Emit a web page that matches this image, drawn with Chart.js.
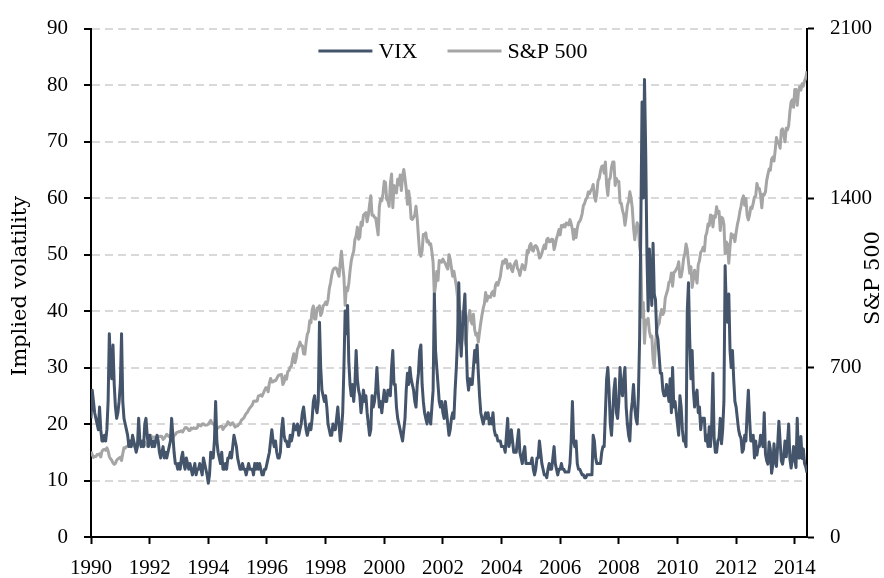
<!DOCTYPE html>
<html>
<head>
<meta charset="utf-8">
<script src="https://cdn.jsdelivr.net/npm/chart.js@4.4.1/dist/chart.umd.min.js"></script>
<style>
html,body{margin:0;padding:0;background:#ffffff;}
#wrap{width:884px;height:578px;position:relative;}
</style>
</head>
<body>
<div id="wrap"><canvas id="c" width="884" height="578"></canvas></div>
<script>
// ---------- data (semi-monthly readings, 1st and mid of each month) ----------
const startYear = 1990;
const pointsPerYear = 24;
const xTickYears = [1990,1992,1994,1996,1998,2000,2002,2004,2006,2008,2010,2012,2014];
const vixTicks = [0,10,20,30,40,50,60,70,80,90];
const spxTicks = [0,700,1400,2100];
const seriesLabels = ['VIX','S&P 500'];
const axisTitles = ['Implied volatility','S&P 500'];

const vix = [
21,26,24,22,21,20,19,23,19,17,17,18,17,19,24,36,30,28,34,27,23,21,22,24,
27,36,24,21,20,19,18,16,17,16,18,17,16,15,16,21,17,16,17,16,20,21,18,16,
18,17,16,17,16,17,18,17,15,14,15,16,14,15,14,15,16,17,21,18,15,13,13,12,
13,12,14,15,13,12,14,13,12,13,12,11,12,13,11,12,12,13,12,11,14,13,12,11,
9.5,11,15,14,14,17,24,17,15,14,13,15,12,12,13,12,14,14,15,14,16,18,17,16,
14,13,12,12,13,12,12,11,12,13,12,12,12,11,13,12,13,12,13,12,11,11,12,12,
13,14,15,17,19,17,16,17,15,14,14,15,19,21,18,17,17,16,16,18,17,18,20,19,
19,20,18,19,20,22,23,21,19,18,19,20,19,21,24,25,23,22,24,38,30,26,25,24,
25,23,20,19,18,18,20,19,19,21,23,20,17,19,22,30,40,36,41,31,27,25,27,24,
27,33,28,26,25,22,24,26,24,25,22,20,18,19,25,23,24,26,30,26,23,24,22,24,
26,24,24,26,26,25,30,33,27,27,23,21,20,19,18,17,19,21,26,29,27,30,28,27,
26,24,23,27,29,33,34,27,24,22,21,20,22,21,20,23,26,43,33,30,27,24,23,24,
22,21,24,22,20,18,19,21,22,21,26,30,35,45,36,32,37,40,43,35,28,26,28,27,
27,30,33,31,34,29,25,22,21,20,21,22,21,22,20,21,20,22,19,18,18,17,17,17,
16,16,16,15,18,21,16,17,19,17,15,15,15,17,19,15,14,13,15,16,13,13,13,13,
13,14,12,11,12,14,14,17,15,13,12,11,11,10.5,12,13,12,12,14,16,13,12,11,12,
12,13,12,12,11.5,11.5,11.5,11.5,13,17,24,17,16,17,13,12,12,11.5,11,11,10.5,10.5,11,11,
11,11,11,18,17,14,13,13,13,13,15,16,16,22,28,30,26,20,18,22,26,28,22,21,
24,30,26,25,28,30,23,20,18,17,22,24,27,23,21,20,25,35,55,77,60,81,68,50,
40,51,45,41,52,43,42,36,35,32,29,29,26,25,25,27,26,24,28,22,30,23,24,22,
20,18,25,23,19,17,17,16,40,45,35,28,33,26,23,25,26,22,23,19,21,21,21,17,
18,16,19.5,16,20,29,17.4,15,15,17,17.5,21,16.5,19,24,48,40,38,43,33,30,33,28,24,
23,21,19,18,17.5,15,15.5,18,17,22,26,21,17,17,18,14,17,14.5,16,16,18,17,16,22,
14.7,13.5,12.9,16.8,15.5,11.3,12.7,16.5,13.5,12.5,16.3,20.5,16.9,13.5,12.9,14.4,17,14.2,16.6,20,13.8,12.2,13.7,16,
13.8,12.3,21,14,14,17.8,13.9,15.6,13,12.4,11.4
];

const spx = [
353,340,329,333,332,341,340,344,331,354,361,362,358,368,356,332,323,317,306,300,304,317,322,326,
330,316,344,369,367,373,375,381,375,384,390,382,371,381,388,385,395,385,388,391,392,382,375,384,
417,420,409,412,413,405,404,416,415,416,415,403,408,416,424,419,414,419,418,410,419,423,431,433,
436,435,439,434,443,451,452,448,440,440,450,447,451,449,448,452,464,461,459,466,468,463,462,463,
466,474,482,470,467,467,446,446,451,455,457,458,444,453,458,462,476,470,463,468,472,462,454,458,
459,466,470,482,487,491,501,510,515,525,533,539,545,560,562,560,562,583,584,587,582,593,605,616,
616,600,636,655,640,641,646,645,654,665,669,670,671,630,640,665,652,683,687,702,705,737,757,720,
741,776,786,805,791,790,757,755,801,837,848,893,885,938,954,900,900,945,947,955,915,928,955,960,
970,960,980,1025,1049,1080,1102,1110,1112,1109,1091,1077,1134,1180,1121,1073,957,1030,1017,1047,1099,1140,1164,1180,
1229,1243,1280,1230,1238,1300,1286,1330,1335,1340,1302,1330,1373,1410,1329,1330,1320,1318,1283,1248,1363,1396,1389,1418,
1469,1465,1395,1388,1366,1460,1499,1360,1452,1447,1421,1478,1455,1495,1431,1491,1518,1480,1437,1374,1429,1389,1315,1312,
1320,1330,1366,1315,1240,1173,1160,1183,1250,1250,1256,1219,1224,1208,1211,1178,1134,1000,1041,1097,1060,1142,1140,1135,
1148,1138,1130,1116,1107,1166,1147,1111,1077,1098,1067,1036,990,840,912,930,916,870,815,790,886,909,936,890,
880,920,856,834,841,805,848,885,917,945,964,1010,975,995,990,990,1008,1015,996,1040,1051,1040,1058,1075,
1112,1139,1131,1146,1145,1110,1126,1128,1107,1096,1121,1132,1141,1110,1102,1080,1104,1125,1115,1104,1130,1183,1174,1203,
1212,1185,1181,1200,1204,1197,1181,1152,1157,1172,1192,1206,1191,1228,1234,1219,1220,1230,1229,1187,1207,1233,1250,1270,
1248,1287,1280,1290,1281,1297,1295,1289,1311,1294,1270,1230,1270,1237,1277,1298,1304,1316,1336,1369,1378,1396,1401,1425,
1418,1431,1438,1456,1407,1387,1421,1472,1482,1512,1531,1533,1503,1549,1455,1411,1474,1484,1527,1549,1549,1452,1481,1468,
1468,1380,1379,1349,1331,1288,1323,1370,1386,1426,1400,1360,1280,1228,1267,1298,1283,1200,1166,908,969,800,896,880,
903,850,826,830,735,700,798,852,873,883,919,940,919,930,987,1005,1021,1052,1057,1090,1036,1093,1096,1106,
1115,1137,1074,1075,1104,1150,1169,1210,1187,1136,1089,1116,1031,1065,1102,1080,1049,1125,1141,1176,1183,1197,1181,1242,
1258,1293,1286,1330,1327,1281,1326,1320,1364,1337,1345,1266,1321,1316,1292,1170,1219,1209,1131,1200,1253,1237,1247,1220,
1258,1290,1312,1343,1366,1395,1409,1370,1398,1330,1310,1330,1362,1357,1379,1405,1407,1460,1441,1440,1412,1360,1416,1413,
1426,1472,1498,1520,1515,1560,1569,1553,1598,1650,1631,1626,1606,1680,1686,1661,1633,1688,1682,1699,1757,1798,1806,1775,
1848,1848,1783,1838,1860,1846,1872,1862,1884,1896,1924
];

// ---------- chart ----------
const FONT_FAMILY = '"Liberation Serif", "DejaVu Serif", serif';
const TITLE_FAMILY = '"DejaVu Serif", "Liberation Serif", serif';
const VIX_COLOR = '#44546A';
const SPX_COLOR = '#A5A5A5';
const dateOf = i => startYear + i / pointsPerYear;
const lastX = dateOf(Math.max(vix.length, spx.length) - 1);

Chart.defaults.font.family = FONT_FAMILY;
Chart.defaults.font.size = 21;
Chart.defaults.color = '#000';

const overlayPlugin = {
  id: 'overlay',
  afterDraw(chart) {
    const ctx = chart.ctx;
    const a = chart.chartArea;
    ctx.save();
    ctx.fillStyle = '#000';
    ctx.font = '21px ' + TITLE_FAMILY;
    ctx.textAlign = 'center';
    ctx.textBaseline = 'middle';
    // left title
    ctx.save();
    ctx.translate(21, 286);
    ctx.rotate(-Math.PI / 2);
    ctx.fillText(axisTitles[0], 0, 0);
    ctx.restore();
    // right title
    ctx.save();
    ctx.translate(874, 278);
    ctx.rotate(-Math.PI / 2);
    ctx.fillText(axisTitles[1], 0, 0);
    ctx.restore();
    // legend
    ctx.font = '22px ' + FONT_FAMILY;
    const boxW = 54, textGap = 6, itemGap = 30;
    const items = chart.data.datasets.map(ds => ({label: ds.label, color: ds.borderColor, w: ctx.measureText(ds.label).width}));
    let total = 0;
    items.forEach((it, i) => { total += boxW + textGap + it.w + (i ? itemGap : 0); });
    let x = (a.left + a.right) / 2 - total / 2 + 4;
    const ly = 51;
    ctx.textAlign = 'left';
    items.forEach(it => {
      ctx.strokeStyle = it.color;
      ctx.lineWidth = 3;
      ctx.beginPath();
      ctx.moveTo(x, ly);
      ctx.lineTo(x + boxW, ly);
      ctx.stroke();
      ctx.fillText(it.label, x + boxW + textGap, ly + 1);
      x += boxW + textGap + it.w + itemGap;
    });
    ctx.restore();
  }
};

new Chart(document.getElementById('c'), {
  type: 'line',
  data: {
    datasets: [
      {
        label: seriesLabels[0],
        data: vix.map((v, i) => ({x: dateOf(i), y: v})),
        yAxisID: 'y',
        borderColor: VIX_COLOR,
        borderWidth: 3,
        borderJoinStyle: 'round',
        pointRadius: 0,
        tension: 0,
        fill: false
      },
      {
        label: seriesLabels[1],
        data: spx.map((v, i) => ({x: dateOf(i), y: v})),
        yAxisID: 'y2',
        borderColor: SPX_COLOR,
        borderWidth: 3,
        borderJoinStyle: 'round',
        pointRadius: 0,
        tension: 0,
        fill: false
      }
    ]
  },
  options: {
    responsive: false,
    animation: false,
    devicePixelRatio: 1,
    layout: {padding: {top: 25, left: 0, right: 0, bottom: 0}},
    plugins: {legend: {display: false}, tooltip: {enabled: false}},
    scales: {
      x: {
        type: 'linear',
        min: startYear,
        max: lastX,
        afterBuildTicks: s => { s.ticks = xTickYears.map(v => ({value: v})); },
        afterFit: s => { s.height = 41; },
        ticks: {autoSkip: false, maxRotation: 0, minRotation: 0, padding: 12, color: '#000',
                font: {size: 21}, callback: v => String(v)},
        grid: {drawOnChartArea: false, drawTicks: true, tickLength: 7, tickWidth: 2, tickColor: '#000'},
        border: {display: true, color: '#000', width: 2}
      },
      y: {
        position: 'left',
        min: 0,
        max: 90,
        afterBuildTicks: s => { s.ticks = vixTicks.map(v => ({value: v})); },
        afterFit: s => { s.width = 91; },
        ticks: {padding: 16, color: '#000', font: {size: 21}, callback: v => String(v)},
        grid: {
          color: c => (c.tick && c.tick.value === 0) ? 'rgba(0,0,0,0)' : '#D9D9D9',
          lineWidth: 2, drawTicks: true, tickLength: 7, tickWidth: 2, tickColor: '#000'
        },
        border: {display: true, color: '#000', width: 2, dash: [8, 5]}
      },
      y2: {
        position: 'right',
        min: 0,
        max: 2100,
        afterBuildTicks: s => { s.ticks = spxTicks.map(v => ({value: v})); },
        afterFit: s => { s.width = 77; },
        ticks: {padding: 16, color: '#000', font: {size: 21}, callback: v => String(v)},
        grid: {drawOnChartArea: false, drawTicks: true, tickLength: 7, tickWidth: 2, tickColor: '#000'},
        border: {display: true, color: '#000', width: 2}
      }
    }
  },
  plugins: [overlayPlugin]
});
</script>
</body>
</html>
